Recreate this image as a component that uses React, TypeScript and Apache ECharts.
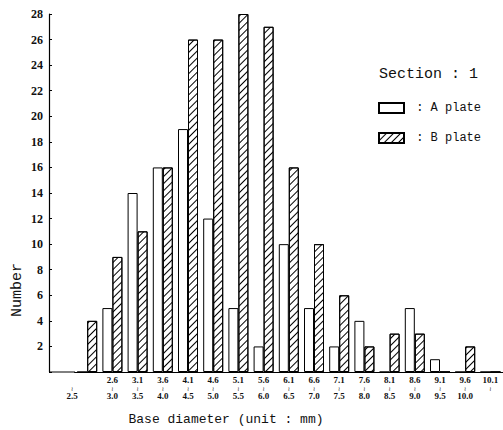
import React, { useEffect, useRef } from "react";
import * as echarts from "echarts";

const lowerBounds = ["", "2.6", "3.1", "3.6", "4.1", "4.6", "5.1", "5.6", "6.1", "6.6", "7.1", "7.6", "8.1", "8.6", "9.1", "9.6", "10.1"];
const upperBounds = ["2.5", "3.0", "3.5", "4.0", "4.5", "5.0", "5.5", "6.0", "6.5", "7.0", "7.5", "8.0", "8.5", "9.0", "9.5", "10.0", ""];
const categories = lowerBounds.map((lo, i) => `${lo}~${upperBounds[i]}`);
const plateA = [0, 5, 14, 16, 19, 12, 5, 2, 10, 5, 2, 4, 0, 5, 1, 0, 0];
const plateB = [4, 9, 11, 16, 26, 26, 28, 27, 16, 10, 6, 2, 3, 3, 0, 2, 0];
const yMax = 28;
const yStep = 2;

const MONO = "'Liberation Mono', monospace";
const SERIF = "'Liberation Serif', serif";

export default function App() {
  const ref = useRef<HTMLDivElement>(null);
  useEffect(() => {
    if (!ref.current) return;
    const chart = echarts.init(ref.current, null, { renderer: "svg" });
    const hatch = {
      symbol: "rect",
      symbolSize: 1,
      dashArrayX: [1, 0],
      dashArrayY: [1, 4],
      rotation: -Math.PI / 4,
      color: "#000",
    };
    chart.setOption({
      animation: false,
      backgroundColor: "#fff",
      title: {
        text: "Section : 1",
        left: 374,
        top: 62,
        textStyle: { fontFamily: MONO, fontSize: 15, fontWeight: "normal", color: "#111" },
      },
      legend: {
        orient: "vertical",
        left: 373,
        top: 97,
        icon: "rect",
        itemWidth: 25,
        itemHeight: 10,
        itemGap: 18,
        data: ["A plate", "B plate"],
        formatter: (n: string) => ` : ${n}`,
        textStyle: { fontFamily: MONO, fontSize: 12, color: "#111" },
      },
      grid: { left: 74.6, right: 0, top: 14, bottom: 58 },
      xAxis: {
        type: "category",
        data: categories,
        axisLine: { lineStyle: { color: "#000", width: 1 } },
        axisTick: { show: false },
        axisLabel: {
          interval: 0,
          margin: 3,
          formatter: (v: string, idx: number) => {
            const lo = lowerBounds[idx] || " ";
            const hi = upperBounds[idx] || " ";
            const s = idx === 0 ? "sf" : "s";
            const t = idx === 0 ? "tf" : "t";
            return `{${s}|${lo}}\n{${t}|≀}\n{${s}|${hi}}`;
          },
          rich: {
            s: { fontFamily: SERIF, fontWeight: "bold", fontSize: 9, lineHeight: 10, color: "#111" },
            t: { fontFamily: "'DejaVu Sans'", fontSize: 6, lineHeight: 6, color: "#111" },
            sf: { fontFamily: SERIF, fontWeight: "bold", fontSize: 9, lineHeight: 10, color: "#111", padding: [0, 30, 0, 0] },
            tf: { fontFamily: "'DejaVu Sans'", fontSize: 6, lineHeight: 6, color: "#111", padding: [0, 30, 0, 0] },
          },
        },
      },
      yAxis: {
        type: "value",
        min: 0,
        max: yMax,
        interval: yStep,
        offset: 25.6,
        axisLine: { show: true, lineStyle: { color: "#000", width: 1.2 } },
        axisTick: { show: true, inside: true, length: 3, lineStyle: { color: "#000" } },
        splitLine: { show: false },
        axisLabel: {
          margin: 6,
          fontFamily: SERIF,
          fontWeight: "bold",
          fontSize: 12,
          color: "#111",
          formatter: (v: number) => (v === 0 ? "" : String(v)),
        },
      },
      graphic: [
        {
          type: "line",
          shape: { x1: 49, y1: 372, x2: 75, y2: 372 },
          style: { stroke: "#000", lineWidth: 1 },
        },
        {
          type: "text",
          x: 17,
          y: 290,
          rotation: Math.PI / 2,
          style: { text: "Number", font: `15px ${MONO}`, fill: "#111", textAlign: "center", textVerticalAlign: "middle" },
        },
        {
          type: "text",
          x: 226,
          y: 419,
          style: { text: "Base diameter (unit : mm)", font: `13px ${MONO}`, fill: "#111", textAlign: "center", textVerticalAlign: "middle" },
        },
      ],
      series: [
        {
          name: "A plate",
          type: "bar",
          data: plateA,
          barWidth: 10,
          barGap: "0%",
          itemStyle: { color: "#fff", borderColor: "#000", borderWidth: 1 },
        },
        {
          name: "B plate",
          type: "bar",
          data: plateB,
          barWidth: 10,
          itemStyle: { color: "#fff", borderColor: "#000", borderWidth: 1, decal: hatch },
        },
      ],
    });
    return () => chart.dispose();
  }, []);
  return <div ref={ref} style={{ width: 503, height: 430, position: "absolute", left: 0, top: 0 }} />;
}
